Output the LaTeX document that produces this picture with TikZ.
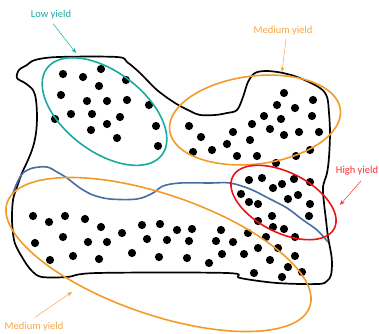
\documentclass[tikz,border=0pt]{standalone}
\usepackage{fontspec}
\setmainfont{Carlito}
\usetikzlibrary{arrows.meta}
\definecolor{tealc}{RGB}{24,170,160}
\definecolor{orangec}{RGB}{242,155,40}
\definecolor{orangetxt}{RGB}{245,165,70}
\definecolor{redc}{RGB}{235,20,20}
\definecolor{redtxt}{RGB}{250,50,50}
\definecolor{bluec}{RGB}{70,110,160}
\tikzset{
  blob/.style={line width=1.7pt, black},
  ell/.style={line width=1.6pt},
  dot/.style={fill=black},
  lbl/.style={font=\fontsize{10.5}{12}\selectfont, inner sep=1pt},
  arr/.style={line width=0.5pt, -{Stealth[length=5pt,width=4pt]}}
}
\begin{document}
\begin{tikzpicture}[x=1pt,y=-1pt]
\useasboundingbox (0,0) rectangle (379,333);
% outline
\draw[blob] plot[smooth cycle, tension=0.55] coordinates {
 (17,78) (19,70) (27,65) (35,60) (58,57) (117,57) (127,62) (140,73) (157,90)
 (175,103) (190,111) (200,115) (215,115) (227,113) (237,110) (243,97) (248,82)
 (255,73) (267,71) (283,73) (300,78) (320,88) (327,97) (329,113) (330,133)
 (329,157) (327,173) (323,187) (324,203) (326,220) (328,237) (331,253) (332,263)
 (331,275) (327,281) (318,284) (277,283) (240,278) (227,273) (97,273) (67,277)
 (42,277) (33,272) (27,265) (22,257) (18,250) (14,240) (12,220) (13,200) (17,187)
 (22,173) (28,160) (33,147) (36,133) (37,117) (36,100) (33,90) (25,83)};
% blue line
\draw[line width=1.6pt, bluec] plot[smooth, tension=0.55] coordinates {
 (13,193) (17,183) (23,173) (33,168) (47,167) (57,172) (67,178) (80,188) (93,195)
 (110,199) (137,199) (153,193) (163,186) (180,183) (210,183) (230,183) (250,189)
 (270,199) (287,208) (303,220) (317,230) (328,242)};
% dots
\foreach \p in {(63,74),(83,77),(101,69),(126,80),(99,86),(61,95),(87,101),(107,101),
 (127,100),(149,105),(55,119),(71,114),(92,114),(120,117),(107,124),(91,130),(117,138),
 (156,126),(158,146),
 (284,93),(313,100),(277,105),(295,108),(264,116),(281,119),(312,116),(189,126),
 (252,124),(233,132),(270,129),(284,135),(299,132),(319,132),(201,137),(250,140),
 (227,144),(212,150),(193,152),(237,156),(257,156),(296,156),(310,150),(276,163),
 (249,180),(262,178),(273,188),(282,184),(294,179),(310,182),(241,194),(249,202),
 (258,204),(288,199),(298,195),(310,204),(309,216),(272,216),(258,221),(273,227),
 (284,229),(295,237),
 (33,216),(49,222),(65,216),(85,219),(101,227),(122,233),(142,225),(160,224),
 (177,230),(192,229),(221,230),(248,233),(266,237),(35,243),(63,237),(88,242),
 (107,242),(147,239),(167,240),(189,241),(216,241),(233,242),(50,260),(73,256),
 (99,259),(132,253),(159,257),(187,258),(209,263),(222,254),(244,254),(258,248),
 (278,248),(270,260),(295,256),(288,267),(302,272),(254,273),(282,277)}
 \fill[dot] \p circle[radius=4.1];
% ellipses
\coordinate (ctl) at (104.5,111.5);
\draw[ell, tealc, rotate around={-37:(ctl)}] (ctl) ellipse[x radius=72, y radius=40];
\coordinate (cmt) at (255,120);
\draw[ell, orangec, rotate around={7:(cmt)}] (cmt) ellipse[x radius=86, y radius=44];
\coordinate (chi) at (283.5,202.5);
\draw[ell, redc, rotate around={-27:(chi)}] (chi) ellipse[x radius=57, y radius=30];
\coordinate (cmb) at (158.5,254.5);
\draw[ell, orangec, rotate around={-19:(cmb)}] (cmb) ellipse[x radius=160, y radius=60];
% labels
\node[lbl, text=tealc] (lowlbl) at (51,15) {Low yield};
\node[lbl, text=orangetxt] (mtlbl) at (283,31) {Medium yield};
\node[lbl, text=redtxt] (hilbl) at (357,171) {High yield};
\node[lbl, text=orangetxt] (mblbl) at (34,327) {Medium yield};
\coordinate (lowtip) at (76,53);
\coordinate (mttip) at (282,72);
\coordinate (hitip) at (340,205);
\coordinate (mbtip) at (72,292);
\draw[arr, tealc] (lowlbl.south) ++(2,3) -- (lowtip);
\draw[arr, orangetxt] (mtlbl.south) ++(3,2) -- (mttip);
\draw[arr, redtxt] (hilbl.south) ++(4,4) -- (hitip);
\draw[arr, orangetxt] (mblbl.north) ++(1,-4) -- (mbtip);
\end{tikzpicture}
\end{document}
